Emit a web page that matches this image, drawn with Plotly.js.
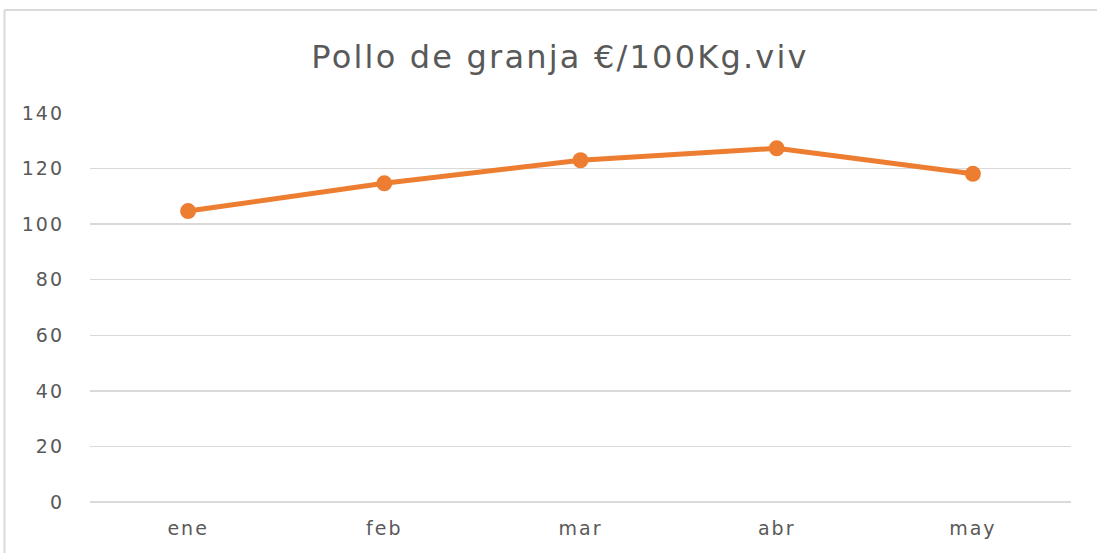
<!DOCTYPE html>
<html>
<head>
<meta charset="utf-8">
<script src="https://cdn.plot.ly/plotly-3.0.1.min.js"></script>
<style>
  html, body { margin: 0; padding: 0; background: #fff; }
  #chart { width: 1097px; height: 553px; }
  #chart .gtitle { letter-spacing: 2.2px; }
  #chart .xtick text, #chart .ytick text { letter-spacing: 2px; }
</style>
</head>
<body>
<div id="chart"></div>
<script>
const months = ["ene", "feb", "mar", "abr", "may"];
const prices = [104.7, 114.7, 123.0, 127.3, 118.1];
const yTicks = [0, 20, 40, 60, 80, 100, 120, 140];

const W = 1097, H = 553;
const mL = 90, mR = 26, mT = 113, mB = 51;
const pw = W - mL - mR, ph = H - mT - mB;
function px(x) { return (x - mL) / pw; }
function py(y) { return 1 - (y - mT) / ph; }

const FONT = "DejaVu Sans, Open Sans, sans-serif";

const trace = {
  x: months,
  y: prices,
  type: "scatter",
  mode: "lines+markers",
  line: { color: "#ED7D31", width: 5 },
  marker: { color: "#ED7D31", size: 16 },
  hoverinfo: "x+y"
};

const layout = {
  width: W,
  height: H,
  margin: { l: mL, r: mR, t: mT, b: mB, pad: 0 },
  paper_bgcolor: "#ffffff",
  plot_bgcolor: "#ffffff",
  showlegend: false,
  font: { family: FONT, color: "#595959", size: 19 },
  title: {
    text: "Pollo de granja €/100Kg.viv",
    font: { family: FONT, size: 32, color: "#595959" },
    x: 560 / W,
    xanchor: "center",
    y: 1 - 57 / H,
    yanchor: "middle"
  },
  xaxis: {
    type: "category",
    range: [-0.5, 4.5],
    showgrid: false,
    zeroline: false,
    showline: false,
    ticks: "",
    tickfont: { family: FONT, size: 19, color: "#595959" },
    ticklabelstandoff: 13,
    fixedrange: true
  },
  yaxis: {
    range: [0, 140],
    tickvals: yTicks,
    ticktext: yTicks.map(String),
    showgrid: true,
    gridcolor: "#d9d9d9",
    gridwidth: 1.5,
    zeroline: true,
    zerolinecolor: "#d9d9d9",
    zerolinewidth: 1.5,
    showline: false,
    ticks: "",
    tickfont: { family: FONT, size: 19, color: "#595959" },
    ticklabelstandoff: 25,
    fixedrange: true
  },
  shapes: [
    { type: "line", xref: "paper", yref: "paper",
      x0: px(4.5), x1: px(4.5), y0: py(10), y1: py(H + 5),
      line: { color: "#d9d9d9", width: 2 } },
    { type: "line", xref: "paper", yref: "paper",
      x0: px(4.5), x1: px(W + 5), y0: py(10), y1: py(10),
      line: { color: "#d9d9d9", width: 2 } }
  ]
};

Plotly.newPlot("chart", [trace], layout, { displayModeBar: false, staticPlot: true });
</script>
</body>
</html>
